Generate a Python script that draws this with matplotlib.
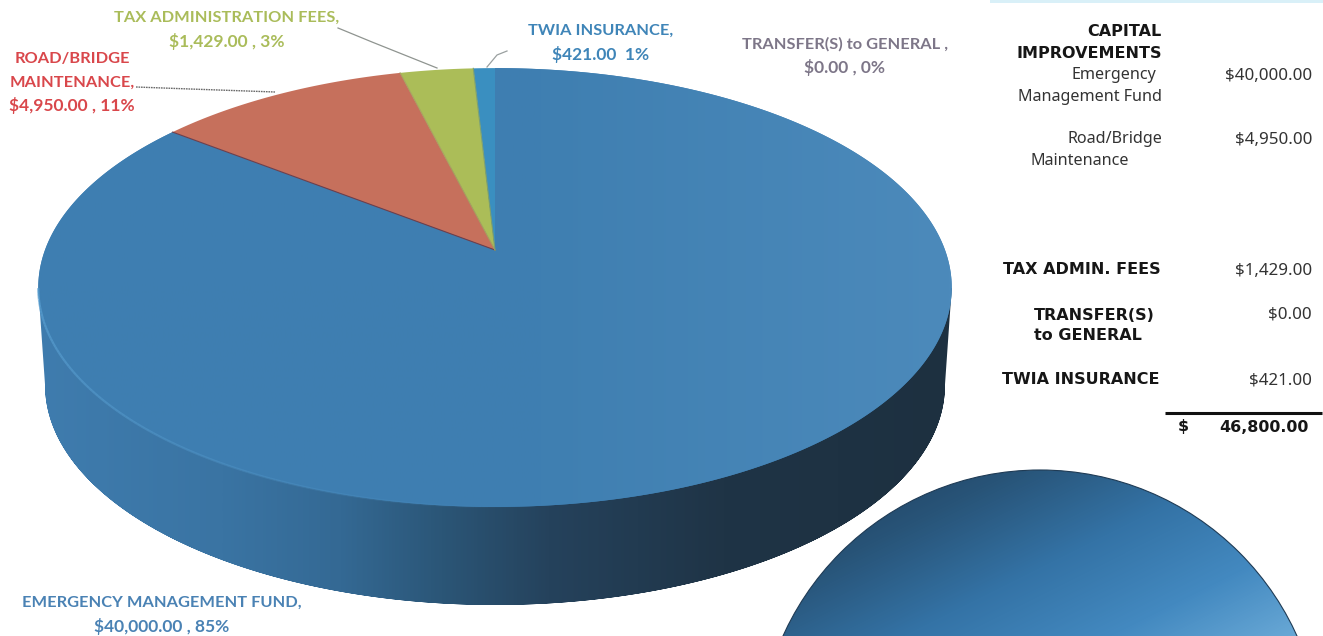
import numpy as np
import matplotlib
matplotlib.use('Agg')
import matplotlib.pyplot as plt
from matplotlib.collections import LineCollection
from matplotlib.colors import LinearSegmentedColormap
from matplotlib.patches import Ellipse, Polygon, Rectangle

# Budget slices, clockwise from twelve o'clock
slice_names = ['Emergency Management Fund', 'Road/Bridge Maintenance',
               'Tax Administration Fees', 'TWIA Insurance', 'Transfer(s) to General']
slice_values = [40000.0, 4950.0, 1429.0, 421.0, 0.0]
slice_colors = ['#3f7fb2', '#c6705c', '#abbd58', '#3a8fc0', '#7c7486']

# Callout labels, amount line last
callout_lines = [
    ['EMERGENCY MANAGEMENT FUND,', '$40,000.00 , 85%'],
    ['ROAD/BRIDGE', 'MAINTENANCE,', '$4,950.00 , 11%'],
    ['TAX ADMINISTRATION FEES,', '$1,429.00 , 3%'],
    ['TWIA INSURANCE,', '$421.00  1%'],
    ['TRANSFER(S) to GENERAL ,', '$0.00 , 0%'],
]
callout_colors = ['#4a82b4', '#d9474b', '#aabc5a', '#3f85b8', '#7d7688']
callout_centers = [(162, 603), (72, 59), (227, 18), (601, 31), (845, 44)]

# Table on the right
table_labels = ['CAPITAL', 'IMPROVEMENTS', 'Emergency', 'Management Fund', 'Road/Bridge',
                'Maintenance', 'TAX ADMIN. FEES', 'TRANSFER(S)', 'to GENERAL', 'TWIA INSURANCE']
table_bold = [True, True, False, False, False, False, True, True, True, True]
table_label_right = [1162, 1162, 1156, 1162, 1162, 1129, 1161, 1155, 1142, 1160]
table_label_y = [31, 53, 75, 97, 139, 161, 270, 315, 336, 380]
table_amounts = ['$40,000.00', '$4,950.00', '$1,429.00', '$0.00', '$421.00']
table_amount_y = [76, 140, 271, 315, 381]
table_total = '46,800.00'

# Pie geometry in image pixels
cx, cy = 495.0, 250.0
persp = 0.171
scale_x, scale_y = 450.0, 213.0
wall_drop = 98.0


def project(theta_deg):
    # perspective view of the unit circle, slice apex stays at (cx, cy)
    t = np.radians(theta_deg)
    x, y = np.cos(t), np.sin(t)
    w = 1 + persp * y
    return cx + scale_x * x / w, cy - scale_y * y / w


def gradient_image(ax, stops, extent, clip, n=600):
    cmap = LinearSegmentedColormap.from_list('g', stops)
    img = np.linspace(0, 1, n)[None, :]
    im = ax.imshow(img, cmap=cmap, extent=extent, aspect='auto', origin='upper',
                   vmin=0, vmax=1, interpolation='bilinear')
    im.set_clip_path(clip)
    return im


fig = plt.figure(figsize=(13.23, 6.36), dpi=100)
ax = fig.add_axes([0, 0, 1, 1])

# Side wall of the disc
theta_all = np.linspace(0, 360, 721)
top_x, top_y = project(theta_all)
low_x = cx + (top_x - cx) * 0.985
low_y = top_y + wall_drop
left = np.argmin(top_x)
right = np.argmax(top_x)
order = np.r_[left:721, 0:right + 1]
wall_pts = np.column_stack([np.r_[low_x[order], top_x[right], cx, top_x[left]],
                            np.r_[low_y[order], top_y[right], cy, top_y[left]]])
wall = Polygon(wall_pts, closed=True, transform=ax.transData, fc='none', ec='none')
ax.add_patch(wall)
gradient_image(ax, [(0.0, '#3f7cae'), (0.2, '#3a74a3'), (0.33, '#346994'), (0.44, '#2b5677'),
                    (0.56, '#25425c'), (0.75, '#1f3446'), (1.0, '#1d3040')],
               (38, 953, 636, 0), wall)

# Top face, one polygon per slice
values = np.array(slice_values)
angles = 90 - np.r_[0, np.cumsum(values)] / values.sum() * 360
for i, val in enumerate(values):
    if val <= 0:
        continue
    th = np.linspace(angles[i], angles[i + 1], max(int(abs(angles[i] - angles[i + 1]) * 2), 8))
    px, py = project(th)
    pts = np.column_stack([np.r_[cx, px], np.r_[cy, py]])
    face = Polygon(pts, closed=True, fc=slice_colors[i], ec='none', zorder=3)
    ax.add_patch(face)
    if i == 0:
        # the big slice is a little brighter towards the right
        shade = gradient_image(ax, [(0.0, '#3e7eb1'), (0.55, '#3f7fb1'), (1.0, '#4c8abb')],
                               (38, 953, 520, 60), face)
        shade.set_zorder(3.1)

# Slice borders
edge_colors = ['#6e3f4c', '#a8a060', '#7da070']
for a, col in zip(angles[1:4], edge_colors):
    px, py = project(a)
    ax.plot([cx, px], [cy, py], color=col, lw=0.8, zorder=4)

# Lit rim along the front left of the disc
th = np.linspace(190, 275, 120)
rx, ry = project(th)
segs = np.stack([np.column_stack([rx[:-1], ry[:-1]]), np.column_stack([rx[1:], ry[1:]])], axis=1)
rim_rgba = np.zeros((len(segs), 4))
rim_rgba[:, :3] = matplotlib.colors.to_rgb('#5aa0d2')
rim_rgba[:, 3] = np.linspace(0.75, 0.0, len(segs))
ax.add_collection(LineCollection(segs, colors=rim_rgba, linewidths=1.6, zorder=4))

# Leader lines
ax.plot([338, 372, 437], [28, 42, 68], color='#8f9490', lw=0.9, zorder=2)
ax.plot([136, 190, 275], [87, 89, 92], color='#6a6a6a', lw=1.0, ls=(0, (1.2, 0.6)), zorder=2)
ax.plot([507, 497, 487], [51, 55, 67], color='#9aa0a0', lw=0.9, zorder=2)

# Second disc running off the lower right corner
ball = Ellipse((1040, 752), 564, 564, fc='none', ec='none', transform=ax.transData)
ax.add_patch(ball)
yy, xx = np.mgrid[470:636, 770:1310]
ramp = (0.62 * (xx - 770) / 540 + 0.38 * (yy - 470) / 166) ** 1.1
cmap = LinearSegmentedColormap.from_list('ball', ['#1d3a58', '#285478', '#3473a6', '#4389c0', '#6cabd8'])
im = ax.imshow(ramp, cmap=cmap, extent=(770, 1310, 636, 470), aspect='auto', vmin=0, vmax=1, zorder=2)
im.set_clip_path(ball)
ax.add_patch(Ellipse((1040, 752), 564, 564, fc='none', ec='#1f3b55', lw=0.8, zorder=3))

# Faint strip along the top edge
ax.add_patch(Rectangle((990, 0), 333, 2.5, fc='#d9f0f8', ec='none', zorder=1))

# Callout text, the amount line runs a little larger
for lines, col, (tx, ty) in zip(callout_lines, callout_colors, callout_centers):
    for k, line in enumerate(lines):
        size = 12.5 if line is lines[-1] else 11.8
        ax.text(tx, ty + k * 23.5, line, color=col, fontsize=size, family='Lato', weight='bold',
                ha='center', va='center', zorder=6)

# Table text
for label, bold, xr, y in zip(table_labels, table_bold, table_label_right, table_label_y):
    if bold:
        ax.text(xr, y, label, ha='right', va='center', fontsize=11.5, family='DejaVu Sans',
                weight='bold', color='#161616', zorder=6)
    else:
        ax.text(xr, y, label, ha='right', va='center', fontsize=11.6, family='Noto Sans',
                color='#333333', zorder=6)
for amount, y in zip(table_amounts, table_amount_y):
    ax.text(1312, y, amount, ha='right', va='center', fontsize=12.2, family='Noto Sans',
            color='#333333', zorder=6)
ax.plot([1165, 1322], [413, 413], color='#111111', lw=2.2, zorder=6, solid_capstyle='butt')
ax.text(1183, 427, '$', ha='center', va='center', fontsize=11.4, family='DejaVu Sans', weight='bold',
        color='#161616', zorder=6)
ax.text(1309, 427, table_total, ha='right', va='center', fontsize=11.4, family='DejaVu Sans', weight='bold',
        color='#161616', zorder=6)

ax.set_xlim(0, 1323)
ax.set_ylim(636, 0)
ax.axis('off')
fig.savefig('out.png', dpi=100, facecolor='white')
